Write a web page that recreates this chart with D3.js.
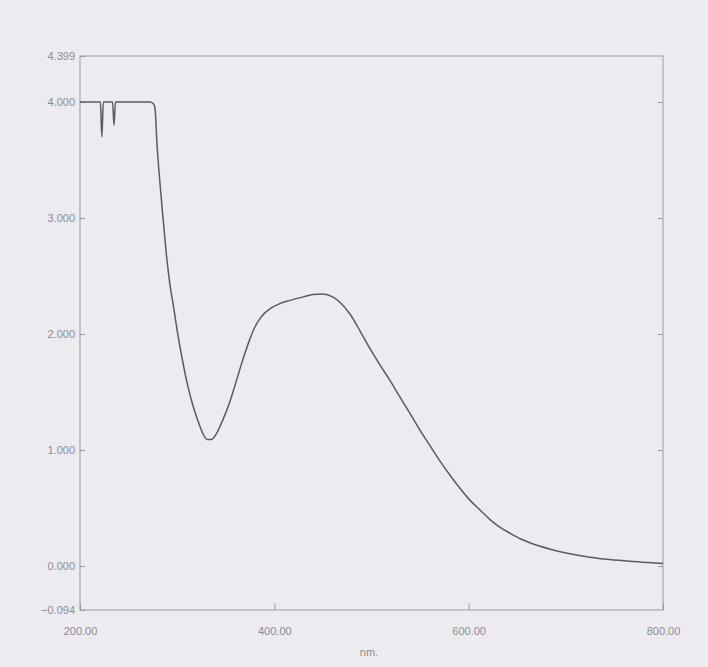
<!DOCTYPE html>
<html>
<head>
<meta charset="utf-8">
<script src="https://cdn.jsdelivr.net/npm/d3@7"></script>
<style>
  body { margin: 0; background: #ecebf0; }
  svg { display: block; }
  .tick text { font-family: "Liberation Sans", Arial, sans-serif; font-size: 11px; fill: #8c8c90; }
  .axis path, .axis line { stroke: #9a9aa0; }
</style>
</head>
<body>
<div id="chart"></div>
<script>
// wavelength (nm) and absorbance
const wavelength = [200, 210, 221, 222.5, 224, 233.5, 235, 236.5, 250, 265, 272, 276, 277.5,
  279, 282, 285, 288.5, 292.5, 296, 300, 306, 311, 316, 321, 326, 331, 335, 341, 347, 354,
  360, 365, 370, 375, 380, 385, 390, 396, 405, 416, 430, 440, 450, 460, 468, 478, 488, 498,
  509, 519, 529, 540, 550, 560, 570, 581, 591, 601, 612, 622, 632, 643, 653, 663, 684, 704,
  725, 745, 766, 785, 800];
const absorbance = [4.0, 4.0, 4.0, 3.70, 4.0, 4.0, 3.80, 4.0, 4.0, 4.0, 4.0, 3.98, 3.92,
  3.67, 3.33, 3.04, 2.72, 2.43, 2.25, 2.03, 1.75, 1.55, 1.39, 1.26, 1.15, 1.09, 1.09, 1.15, 1.26, 1.41,
  1.57, 1.71, 1.84, 1.96, 2.06, 2.13, 2.18, 2.22, 2.26, 2.29, 2.32, 2.34, 2.345, 2.32, 2.27, 2.17, 2.03, 1.88,
  1.73, 1.60, 1.46, 1.31, 1.17, 1.04, 0.91, 0.78, 0.67, 0.57, 0.48, 0.40, 0.335, 0.28, 0.235, 0.20, 0.145, 0.105,
  0.075, 0.055, 0.04, 0.03, 0.022];
const yTickValues = [-0.094, 0, 1, 2, 3, 4, 4.399];
const xTickValues = [200, 400, 600, 800];

const width = 708, height = 667;
const margin = {top: 56, right: 45, bottom: 57, left: 80};

const svg = d3.select("#chart").append("svg")
    .attr("width", width)
    .attr("height", height);

const x = d3.scaleLinear()
    .domain([200, 800])
    .range([margin.left, width - margin.right]);

// the scan stretches the bottom strip, so the scale is piecewise
const y = d3.scaleLinear()
    .domain([-0.094, 0, 4, 4.399])
    .range([height - margin.bottom, 566, 102, margin.top]);

// frame
svg.append("rect")
    .attr("x", margin.left)
    .attr("y", margin.top)
    .attr("width", width - margin.left - margin.right)
    .attr("height", height - margin.top - margin.bottom)
    .attr("fill", "none")
    .attr("stroke", "#9a9aa0");

// left axis, ticks pointing in
svg.append("g")
    .attr("class", "axis")
    .attr("transform", `translate(${margin.left},0)`)
    .call(d3.axisRight(y).tickValues(yTickValues).tickSize(5).tickFormat(d3.format(".3f")))
    .call(g => g.select(".domain").remove())
    .call(g => g.selectAll("text").attr("x", -5).attr("text-anchor", "end"));

// right axis ticks, no labels
svg.append("g")
    .attr("class", "axis")
    .attr("transform", `translate(${width - margin.right},0)`)
    .call(d3.axisLeft(y).tickValues(yTickValues.slice(1, -1)).tickSize(5).tickFormat(""))
    .call(g => g.select(".domain").remove());

// bottom axis
svg.append("g")
    .attr("class", "axis")
    .attr("transform", `translate(0,${height - margin.bottom})`)
    .call(d3.axisTop(x).tickValues(xTickValues).tickSize(7).tickFormat(d3.format(".2f")))
    .call(g => g.select(".domain").remove())
    .call(g => g.selectAll("text").attr("y", 17).attr("dy", "0.71em"));

svg.append("text")
    .attr("x", 369)
    .attr("y", 656)
    .attr("text-anchor", "middle")
    .style("font-family", "Liberation Sans, Arial, sans-serif")
    .style("font-size", "11px")
    .style("fill", "#8c8c90")
    .text("nm.");

const points = wavelength.map((w, i) => [w, absorbance[i]]);

const line = d3.line()
    .x(d => x(d[0]))
    .y(d => y(d[1]))
    .curve(d3.curveMonotoneX);

svg.append("path")
    .datum(points)
    .attr("fill", "none")
    .attr("stroke", "#5c5a60")
    .attr("stroke-width", 1.5)
    .attr("d", line);
</script>
</body>
</html>
